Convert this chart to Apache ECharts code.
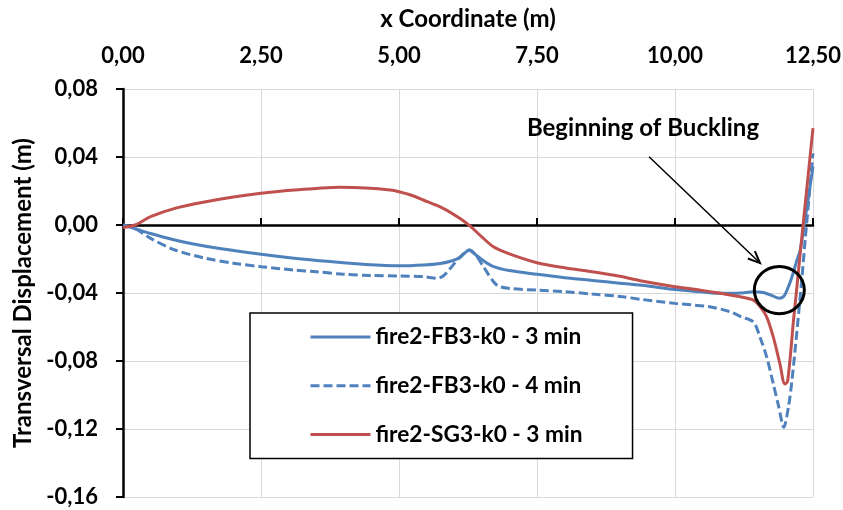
<!DOCTYPE html>
<html>
<head>
<meta charset="utf-8">
<script src="https://cdn.jsdelivr.net/npm/echarts@6/dist/echarts.min.js"></script>
<style>
  html, body { margin: 0; padding: 0; background: #fff; }
  #chart { width: 843px; height: 510px; }
</style>
</head>
<body>
<div id="chart"></div>
<script>
// Series names (legend order)
const seriesNames = ['fire2-FB3-k0 - 3 min', 'fire2-FB3-k0 - 4 min', 'fire2-SG3-k0 - 3 min'];

// fire2-FB3-k0 - 3 min : x coordinate (m) / transversal displacement (m)
const fb3Min3X = [0, 0.25, 0.5, 0.9, 1.25, 1.75, 2.5, 3.1, 3.75, 4.4, 5.0, 5.45, 5.75, 5.95, 6.1, 6.2, 6.27, 6.35, 6.47, 6.7, 7.0, 7.5, 8.0, 8.5, 9.0, 9.4, 10.0, 10.5, 10.82, 11.18, 11.42, 11.6, 11.75, 11.89, 11.97, 12.03, 12.12, 12.21, 12.27, 12.34, 12.42, 12.5];
const fb3Min3Y = [0, -0.0025, -0.005, -0.0085, -0.011, -0.0138, -0.0172, -0.0195, -0.0215, -0.0232, -0.0240, -0.0235, -0.0226, -0.0212, -0.0192, -0.0163, -0.0147, -0.0165, -0.0196, -0.0243, -0.0268, -0.0290, -0.0310, -0.0326, -0.0342, -0.0355, -0.0380, -0.0394, -0.0402, -0.0400, -0.0393, -0.0397, -0.0414, -0.0431, -0.0420, -0.0383, -0.0304, -0.0206, -0.0147, 0.0, 0.0170, 0.0344];

// fire2-FB3-k0 - 4 min
const fb3Min4X = [0, 0.22, 0.5, 0.94, 1.5, 2.0, 2.5, 3.1, 3.5, 4.0, 4.5, 5.0, 5.45, 5.68, 5.8, 5.93, 6.1, 6.28, 6.4, 6.53, 6.77, 7.0, 7.5, 8.0, 8.5, 9.0, 9.4, 10.0, 10.6, 11.0, 11.2, 11.42, 11.54, 11.66, 11.78, 11.88, 11.97, 12.06, 12.12, 12.18, 12.24, 12.3, 12.36, 12.43, 12.5];
const fb3Min4Y = [0, -0.002, -0.0079, -0.0147, -0.0196, -0.0225, -0.0245, -0.0265, -0.0275, -0.0290, -0.0297, -0.0300, -0.0304, -0.0314, -0.0300, -0.0255, -0.0190, -0.0147, -0.0180, -0.0245, -0.0353, -0.0373, -0.0383, -0.0392, -0.0406, -0.0420, -0.0438, -0.0461, -0.0480, -0.0510, -0.0540, -0.0570, -0.0660, -0.0776, -0.0933, -0.1070, -0.1190, -0.1060, -0.0910, -0.0720, -0.0520, -0.0310, -0.0080, 0.0170, 0.0422];

// fire2-SG3-k0 - 3 min
const sg3Min3X = [0, 0.22, 0.5, 0.94, 1.5, 2.0, 2.5, 3.1, 3.5, 3.93, 4.4, 4.84, 5.0, 5.2, 5.44, 5.8, 6.1, 6.3, 6.5, 6.71, 7.0, 7.5, 8.0, 8.5, 9.0, 9.37, 10.0, 10.46, 10.82, 11.18, 11.42, 11.54, 11.66, 11.78, 11.9, 11.99, 12.04, 12.15, 12.21, 12.27, 12.32, 12.5];
const sg3Min3Y = [-0.0014, 0, 0.0049, 0.0098, 0.0137, 0.0165, 0.0187, 0.0206, 0.0215, 0.0222, 0.0218, 0.0206, 0.0196, 0.0178, 0.0147, 0.0098, 0.0039, -0.0010, -0.0070, -0.0128, -0.0170, -0.0222, -0.0252, -0.0275, -0.0302, -0.0328, -0.0363, -0.0383, -0.0402, -0.0422, -0.0442, -0.0480, -0.0540, -0.0658, -0.0815, -0.0935, -0.0920, -0.0550, -0.0360, -0.0160, 0.0, 0.0570];

// Axis ranges and tick step
const xAxisRange = { min: 0, max: 12.5, step: 2.5 };
const yAxisRange = { min: -0.16, max: 0.08, step: 0.04 };

// Callout, in data coordinates
const calloutText = 'Beginning of Buckling';
const calloutAt = [9.42, 0.0571];
const arrowFrom = [9.53, 0.0401];
const arrowTo = [11.54, -0.0224];
const ringCenter = [11.89, -0.0383];
const ringRadius = [0.453, 0.0139];

const zip = (xs, ys) => xs.map((x, i) => [x, ys[i]]);
const fmt = v => (Math.abs(v) < 1e-9 ? 0 : v).toFixed(2).replace('.', ',');

const FONT = 'Lato';
const BLUE = '#4F81BD';
const RED = '#C0504D';
const GRID = '#D9D9D9';
const tickText = { fontFamily: FONT, fontWeight: 'bold', fontSize: 22, color: '#000' };
const nameText = { fontFamily: FONT, fontWeight: 'bold', fontSize: 24, color: '#000' };

const chart = echarts.init(document.getElementById('chart'), null, { renderer: 'canvas' });

chart.setOption({
  animation: false,
  backgroundColor: '#fff',
  grid: { left: 123, right: 30, top: 89, bottom: 13, containLabel: false, outerBoundsMode: 'none' },
  xAxis: [
    {
      type: 'value', position: 'top',
      min: xAxisRange.min, max: xAxisRange.max, interval: xAxisRange.step,
      name: 'x Coordinate (m)', nameLocation: 'middle', nameGap: 58,
      nameTextStyle: nameText,
      axisLine: { show: false, onZero: false },
      axisTick: { show: false },
      axisLabel: Object.assign({ formatter: fmt, margin: 22 }, tickText),
      splitLine: { show: true, lineStyle: { color: GRID, width: 1 } }
    },
    {
      type: 'value', position: 'bottom',
      min: xAxisRange.min, max: xAxisRange.max, interval: xAxisRange.step,
      axisLine: { show: true, onZero: true, lineStyle: { color: '#000', width: 2.5 } },
      axisTick: { show: true, inside: true, length: 7, lineStyle: { color: '#000', width: 2 } },
      axisLabel: { show: false },
      splitLine: { show: false }
    }
  ],
  yAxis: {
    type: 'value',
    min: yAxisRange.min, max: yAxisRange.max, interval: yAxisRange.step,
    name: 'Transversal Displacement (m)', nameLocation: 'middle', nameGap: 85,
    nameTextStyle: nameText,
    axisLine: { show: true, onZero: false, lineStyle: { color: '#000', width: 2.5 } },
    axisTick: { show: true, length: 7, lineStyle: { color: '#000', width: 2 } },
    axisLabel: Object.assign({ formatter: fmt, margin: 25 }, tickText),
    splitLine: { show: true, lineStyle: { color: GRID, width: 1 } }
  },
  legend: {
    orient: 'vertical', left: 250, top: 313,
    padding: [11, 50, 11, 59],
    itemWidth: 60, itemHeight: 26, itemGap: 22.7,
    backgroundColor: '#fff', borderColor: '#000', borderWidth: 1.5,
    itemStyle: { opacity: 0 },
    lineStyle: { width: 3 },
    textStyle: Object.assign({ lineHeight: 26 }, tickText, { fontSize: 22.7 }),
    data: seriesNames
  },
  series: [
    {
      name: seriesNames[0], type: 'line', smooth: 0.3, symbol: 'none',
      lineStyle: { color: BLUE, width: 3 }, itemStyle: { color: BLUE },
      data: zip(fb3Min3X, fb3Min3Y)
    },
    {
      name: seriesNames[1], type: 'line', smooth: 0.3, symbol: 'none',
      lineStyle: { color: BLUE, width: 3, type: [9, 4] }, itemStyle: { color: BLUE },
      data: zip(fb3Min4X, fb3Min4Y)
    },
    {
      name: seriesNames[2], type: 'line', smooth: 0.3, symbol: 'none',
      lineStyle: { color: RED, width: 3 }, itemStyle: { color: RED },
      data: zip(sg3Min3X, sg3Min3Y)
    }
  ]
});

// Callout: text, arrow and ring placed through the chart's own coordinate system
const toPx = pt => chart.convertToPixel({ xAxisIndex: 0, yAxisIndex: 0 }, pt);
const a = toPx(arrowFrom), b = toPx(arrowTo);
const ang = Math.atan2(b[1] - a[1], b[0] - a[0]);
const headLen = 13, headSpread = 0.4;
const head = [
  [b[0] - headLen * Math.cos(ang - headSpread), b[1] - headLen * Math.sin(ang - headSpread)],
  b,
  [b[0] - headLen * Math.cos(ang + headSpread), b[1] - headLen * Math.sin(ang + headSpread)]
];
const c = toPx(ringCenter);
const edge = toPx([ringCenter[0] + ringRadius[0], ringCenter[1] + ringRadius[1]]);
const t = toPx(calloutAt);

chart.setOption({
  graphic: [
    { type: 'line', shape: { x1: a[0], y1: a[1], x2: b[0], y2: b[1] }, style: { stroke: '#000', lineWidth: 1.5 }, z: 100 },
    { type: 'polyline', shape: { points: head }, style: { stroke: '#000', lineWidth: 2, fill: null }, z: 100 },
    { type: 'ellipse', shape: { cx: c[0], cy: c[1], rx: Math.abs(edge[0] - c[0]), ry: Math.abs(c[1] - edge[1]) }, style: { stroke: '#000', lineWidth: 3, fill: null }, z: 100 },
    { type: 'text', x: t[0], y: t[1], style: { text: calloutText, font: 'bold 24px Lato', fill: '#000', align: 'center', verticalAlign: 'middle' }, z: 100 }
  ]
});
</script>
</body>
</html>
